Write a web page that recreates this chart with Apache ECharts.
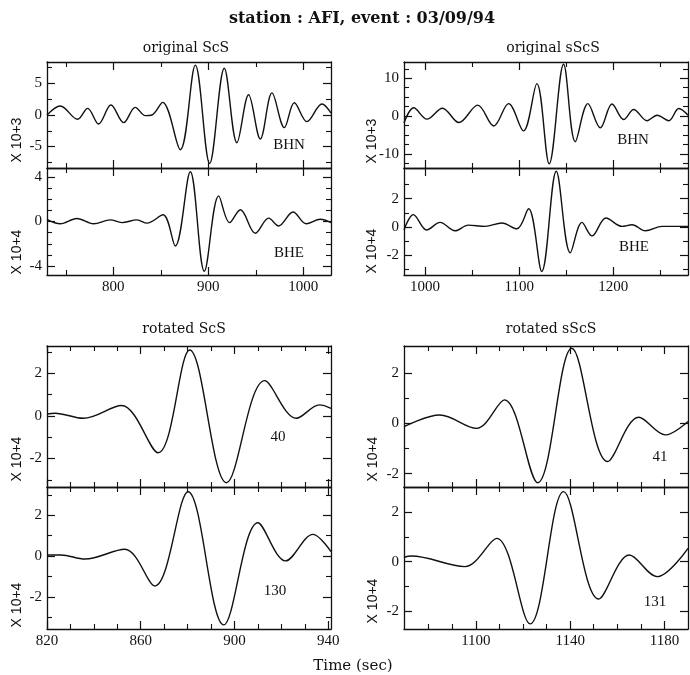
<!DOCTYPE html>
<html><head><meta charset="utf-8">
<script src="https://cdn.jsdelivr.net/npm/echarts@6/dist/echarts.min.js"></script>
<style>html,body{margin:0;padding:0;background:#fff}#c{width:690px;height:675px}</style>
</head><body><div id="c"></div>
<script>
// ---------- texts ----------
const mainTitle = 'station : AFI, event : 03/09/94';
const panelTitles = ['original ScS', 'original sScS', 'rotated ScS', 'rotated sScS'];
const componentLabels = ['BHN', 'BHE', 'BHN', 'BHE', '40', '130', '41', '131'];
const unitLabels = ['X 10+3', 'X 10+4', 'X 10+3', 'X 10+4', 'X 10+4', 'X 10+4', 'X 10+4', 'X 10+4'];
const xAxisTitle = 'Time (sec)';

// ---------- waveforms [time (sec), amplitude] ----------
const scsBHN = [[730.2,0],[744.2,1.42],[762.4,-0.68],[773,1.05],[784.5,-1.42],[797.5,1.58],[810.9,-1.21],[823.1,1.21],[833.7,-0.1],[840.7,0],[851.9,2.0],[870.5,-5.5],[886.3,7.9],[901.4,-7.7],[916.8,7.4],[930.1,-4.4],[942.4,3.2],[954.7,-3.8],[967,3.5],[980,-2.0],[990.5,1.95],[1003.8,-1.05],[1019.6,1.74],[1029.1,0.3]];
const scsBHE = [[730.2,0.2],[744.2,-0.2],[761.7,0.27],[779.3,-0.2],[796.8,0.15],[809,-0.1],[824.9,0.15],[835.4,-0.15],[852.3,0.6],[865.2,-2.2],[881,4.46],[895.8,-4.46],[910.9,2.3],[922.4,-0.1],[933.7,1.05],[949.5,-1.05],[963.5,0.3],[974,-0.4],[989.1,0.85],[1003.1,-0.2],[1017.9,0.2],[1029.1,-0.1]];
const sscsBHN = [[977.7,-1.8],[988,2.2],[1002,-0.8],[1018.5,2.1],[1036,-1.7],[1056,2.9],[1073,-2.6],[1088.7,3.3],[1104.6,-3.9],[1118.8,8.6],[1131.9,-12.6],[1147.2,13.7],[1159.6,-6.75],[1173,3.3],[1186.2,-3.1],[1198.6,3.2],[1211,-0.9],[1221.6,1.75],[1235.8,-1.2],[1246.5,0.25],[1258.9,-1.2],[1269.5,2.0],[1279.3,0.25]];
const sscsBHE = [[977.7,-0.2],[987.6,0.88],[1001.8,-0.2],[1016,0.33],[1031.9,-0.26],[1046,0.14],[1063.8,0.05],[1081.6,0.29],[1097.5,-0.12],[1110,1.29],[1124,-3.12],[1139.4,3.93],[1154.3,-1.81],[1166.7,0.33],[1177.3,-0.62],[1192.2,0.64],[1209.2,0.05],[1219.9,0.17],[1234,-0.26],[1251.8,0.05],[1279.3,0.05]];
const rotScS40 = [[820,0.09],[823.4,0.13],[835.5,-0.11],[851.8,0.49],[867.4,-1.73],[880.9,3.1],[896.6,-3.14],[912.9,1.66],[926.4,-0.11],[936.3,0.52],[941.2,0.36]];
const rotScS130 = [[820,0.05],[826,0.05],[836.2,-0.15],[853.2,0.33],[866,-1.47],[880.2,3.15],[895.4,-3.38],[910,1.63],[921.8,-0.24],[933.5,1.06],[941.2,0.21]];
const rotSScS41 = [[1069.5,-0.13],[1084.7,0.33],[1100.3,-0.2],[1112.1,0.93],[1126.2,-2.36],[1140.7,2.98],[1155.9,-1.52],[1169.1,0.24],[1180.4,-0.46],[1190,0.07]];
const rotSScS131 = [[1069.5,0.18],[1072.6,0.23],[1095.3,-0.2],[1108.8,0.95],[1123,-2.53],[1137.2,2.85],[1152.1,-1.52],[1165.1,0.27],[1176.9,-0.61],[1190,0.54]];

// ---------- axis extents ----------
const xRangeScS = [730.2, 1029.1];
const xRangeSScS = [977.7, 1279.3];
const xRangeRotScS = [820, 941.2];
const xRangeRotSScS = [1069.5, 1190];
const yRanges = [[-8.4, 8.4], [-4.8, 4.8], [-13.7, 14.3], [-3.37, 4.16], [-3.34, 3.29], [-3.58, 3.38], [-2.53, 3.07], [-2.74, 3.04]];

// ---------- ticks ----------
const xLabelsScS = [800, 900, 1000];
const xMinorScS = [750, 850, 950];
const xLabelsSScS = [1000, 1100, 1200];
const xMinorSScS = [1050, 1150, 1250];
const xLabelsRotScS = [820, 860, 900, 940];
const xMinorRotScS = [830, 840, 850, 870, 880, 890, 910, 920, 930];
const xLabelsRotSScS = [1100, 1140, 1180];
const xMinorRotSScS = [1080, 1090, 1110, 1120, 1130, 1150, 1160, 1170];
const yLabels = [[-5, 0, 5], [-4, 0, 4], [-10, 0, 10], [-2, 0, 2], [-2, 0, 2], [-2, 0, 2], [-2, 0, 2], [-2, 0, 2]];
const yMinor = [[-7.5, -2.5, 2.5, 7.5], [-3, -2, -1, 1, 2, 3], [-12.5, -7.5, -5, -2.5, 2.5, 5, 7.5, 12.5], [-3, -1, 1, 3], [-3, -1, 1, 3], [-3, -1, 1, 3], [-1, 1], [-1, 1]];

const waves = [scsBHN, scsBHE, sscsBHN, sscsBHE, rotScS40, rotScS130, rotSScS41, rotSScS131];
const xRanges = [xRangeScS, xRangeScS, xRangeSScS, xRangeSScS, xRangeRotScS, xRangeRotScS, xRangeRotSScS, xRangeRotSScS];
const xLabels = [xLabelsScS, xLabelsScS, xLabelsSScS, xLabelsSScS, xLabelsRotScS, xLabelsRotScS, xLabelsRotSScS, xLabelsRotSScS];
const xMinors = [xMinorScS, xMinorScS, xMinorSScS, xMinorSScS, xMinorRotScS, xMinorRotScS, xMinorRotSScS, xMinorRotSScS];

// ---------- layout ----------
const boxes = [
  [47, 62, 284, 106], [47, 168, 284, 107],
  [404, 62, 284, 106], [404, 168, 284, 107],
  [47, 346, 284, 141], [47, 487, 284, 142],
  [404, 346, 284, 141], [404, 487, 284, 142]
];
const INK = '#111';
const tickFont = 'Liberation Serif';

function axisSet(kind, gi, range, labels, minors, showLabels, pos) {
  const base = {type: 'value', gridIndex: gi, min: range[0], max: range[1], position: pos,
    splitLine: {show: false}, minorTick: {show: false}, minorSplitLine: {show: false}};
  const major = Object.assign({}, base, {
    axisLine: {show: true, onZero: false, lineStyle: {color: INK, width: 1.3}},
    axisTick: {show: true, inside: true, length: 8, customValues: labels, lineStyle: {color: INK, width: 1.2}},
    axisLabel: {show: showLabels, customValues: labels, margin: kind === 'x' ? 5 : 5,
      formatter: v => String(v), fontFamily: tickFont, fontSize: 15, color: INK}
  });
  const minor = Object.assign({}, base, {
    axisLine: {show: false, onZero: false},
    axisTick: {show: true, inside: true, length: 5, customValues: minors, lineStyle: {color: INK, width: 1.1}},
    axisLabel: {show: false}
  });
  return [major, minor];
}

const grid = [], xAxis = [], yAxis = [], series = [];
boxes.forEach((b, i) => {
  grid.push({left: b[0], top: b[1], width: b[2], height: b[3], show: false, containLabel: false, outerBoundsMode: 'none'});
  const showX = (i % 2 === 1);
  xAxis.push(...axisSet('x', i, xRanges[i], xLabels[i], xMinors[i], showX, 'bottom'));
  xAxis.push(...axisSet('x', i, xRanges[i], xLabels[i], xMinors[i], false, 'top'));
  yAxis.push(...axisSet('y', i, yRanges[i], yLabels[i], yMinor[i], true, 'left'));
  yAxis.push(...axisSet('y', i, yRanges[i], yLabels[i], yMinor[i], false, 'right'));
  series.push({type: 'line', xAxisIndex: i * 4, yAxisIndex: i * 4, data: waves[i],
    showSymbol: false, symbol: 'none', smooth: 0.35, clip: true,
    lineStyle: {color: INK, width: 1.4}});
});

// ---------- texts ----------
const graphic = [];
function txt(t, x, y, font, rot) {
  graphic.push({type: 'text', x: x, y: y, rotation: rot || 0, silent: true,
    style: {text: t, font: font, fill: INK, textAlign: 'center', textVerticalAlign: 'middle'}});
}
txt(mainTitle, 362, 19, 'bold 16px "DejaVu Serif"');
const titlePos = [[186, 48], [553, 48], [184, 329], [551, 329]];
panelTitles.forEach((t, i) => txt(t, titlePos[i][0], titlePos[i][1], '14px "DejaVu Serif"'));
txt(xAxisTitle, 353, 666, '15px "DejaVu Serif"');
const compPos = [[289, 145], [289, 253], [633, 140], [634, 247], [278, 437], [275, 591], [660, 457], [655, 602]];
componentLabels.forEach((t, i) => txt(t, compPos[i][0], compPos[i][1], '15px "Liberation Serif"'));
const unitPos = [[17, 140], [17, 252], [372, 141], [372, 251], [17, 459], [17, 605], [373, 459], [373, 601]];
unitLabels.forEach((t, i) => txt(t, unitPos[i][0], unitPos[i][1], '14px "Liberation Sans"', Math.PI / 2));

const chart = echarts.init(document.getElementById('c'), null, {renderer: 'canvas'});
chart.setOption({animation: false, backgroundColor: '#fff', grid, xAxis, yAxis, series, graphic});
</script></body></html>
